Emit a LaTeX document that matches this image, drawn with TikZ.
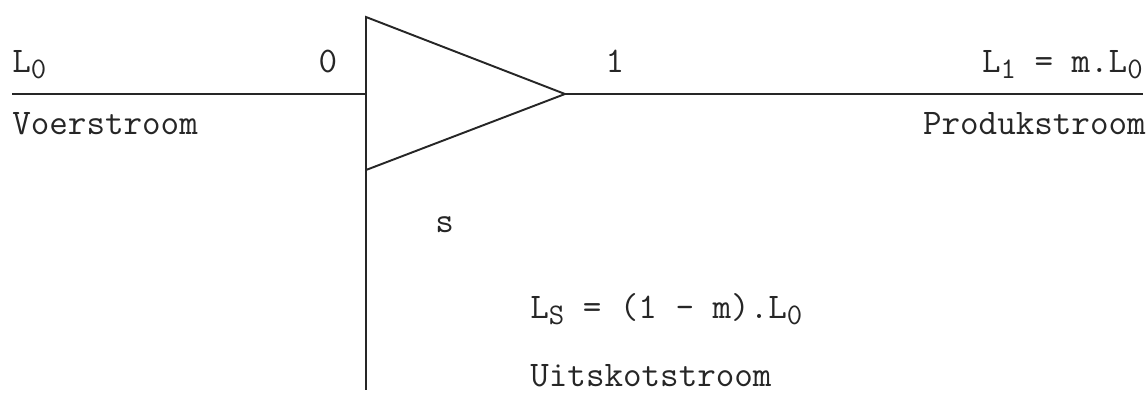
\documentclass[tikz,border=0pt]{standalone}
\usepackage{fontspec}
\usetikzlibrary{positioning}
\tikzset{
  stream/.style={line width=1.1pt, draw=black!85},
  lbl/.style={font=\ttfamily\fontsize{20.5}{22}\selectfont,
    inner sep=0pt, text=black!85},
}
\newcommand{\subs}[1]{\raisebox{-0.4ex}{\fontsize{17}{17}\selectfont #1}}

\begin{document}
\begin{tikzpicture}[x=0.02cm, y=-0.02cm]
  \useasboundingbox (0,0) rectangle (1148,392);
  % splitter and streams
  \coordinate (top) at (366,17);
  \coordinate (bot) at (366,170);
  \coordinate (apex) at (565,94);
  \coordinate (feed) at (12,94);
  \coordinate (prod) at (1143,94);
  \coordinate (rej) at (366,390);
  \draw[stream] (top) -- (apex) -- (bot) -- cycle;
  \draw[stream] (feed) -- (feed -| top);
  \draw[stream] (apex) -- (prod);
  \draw[stream] (bot) -- (rej);
  % labels
  \node[lbl, anchor=base west] (lzero) at (12,72) {L\subs{0}};
  \node[lbl, anchor=base] (pzero) at (328,72) {0};
  \node[lbl, anchor=base] (pone) at (615,72) {1};
  \node[lbl, anchor=base east] (lone) at (1143,72) {L\subs{1} = m.L\subs{0}};
  \node[lbl, anchor=base west] (voer) at (12,134) {Voerstroom};
  \node[lbl, anchor=base east] (produk) at (1146,134) {Produkstroom};
  \node[lbl, anchor=base west] (ps) at (435,232) {s};
  \node[lbl, anchor=base west] (ls) at (530,318) {L\subs{S} = (1 - m).L\subs{0}};
  \node[lbl, anchor=base west] (uit) at (530,386) {Uitskotstroom};
\end{tikzpicture}
\end{document}
